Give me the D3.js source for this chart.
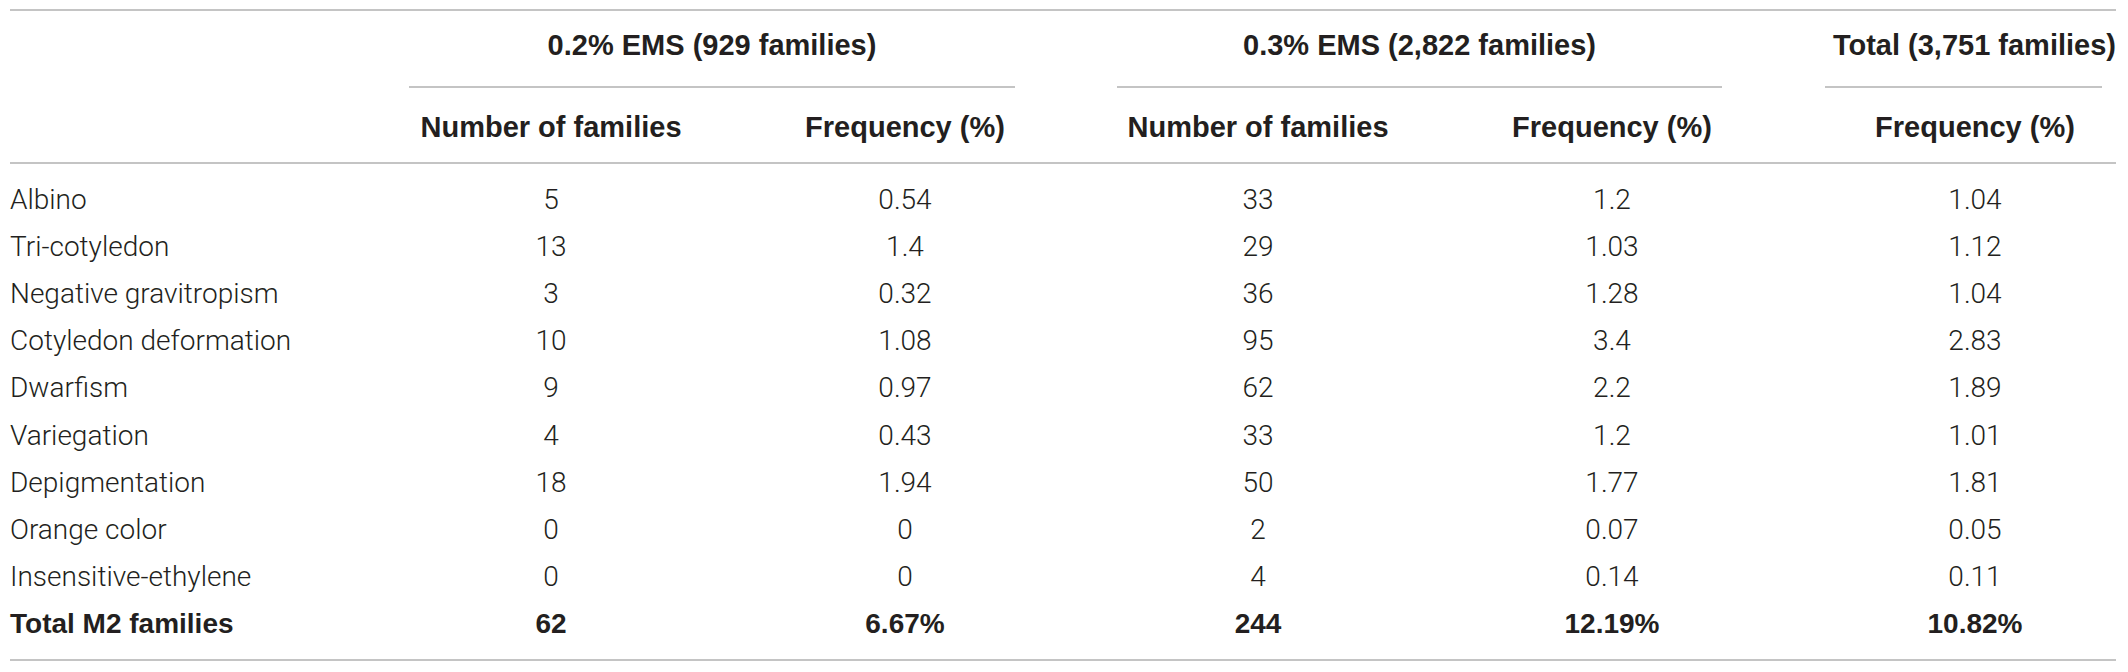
<!DOCTYPE html>
<html>
<head>
<meta charset="utf-8">
<script src="https://cdn.jsdelivr.net/npm/d3@7"></script>
<style>
  html, body { margin: 0; padding: 0; background: #fff; }
  svg text { fill: #231f20; }
  .hd { font-family: "Liberation Sans", Arial, sans-serif; font-weight: bold; font-size: 29px; }
  .bd { font-family: Roboto, "Liberation Sans", sans-serif; font-weight: 300; font-size: 28px; }
  .bd.total { font-family: "Liberation Sans", Arial, sans-serif; font-weight: bold; }
  .rule { stroke: #b1b1b1; stroke-width: 1.6; }
</style>
</head>
<body>
<div id="chart"></div>
<script>
// table content
const phenotypes = ["Albino", "Tri-cotyledon", "Negative gravitropism", "Cotyledon deformation",
  "Dwarfism", "Variegation", "Depigmentation", "Orange color", "Insensitive-ethylene", "Total M2 families"];
const count02 = ["5", "13", "3", "10", "9", "4", "18", "0", "0", "62"];
const freq02  = ["0.54", "1.4", "0.32", "1.08", "0.97", "0.43", "1.94", "0", "0", "6.67%"];
const count03 = ["33", "29", "36", "95", "62", "33", "50", "2", "4", "244"];
const freq03  = ["1.2", "1.03", "1.28", "3.4", "2.2", "1.2", "1.77", "0.07", "0.14", "12.19%"];
const freqTotal = ["1.04", "1.12", "1.04", "2.83", "1.89", "1.01", "1.81", "0.05", "0.11", "10.82%"];

const groupLabels = ["0.2% EMS (929 families)", "0.3% EMS (2,822 families)", "Total (3,751 families)"];
const columnLabels = ["Number of families", "Frequency (%)", "Number of families", "Frequency (%)", "Frequency (%)"];

const width = 2128, height = 672;
const margin = { left: 10, right: 12 };

let svg = d3.select("#chart").append("svg")
  .attr("width", width)
  .attr("height", height);

// column centres and row baselines
const colKeys = ["c1", "c2", "c3", "c4", "c5"];
let x = d3.scaleOrdinal().domain(colKeys).range([551, 905, 1258, 1612, 1975]);
let y = d3.scaleLinear().domain([0, phenotypes.length - 1]).range([209, 633]);

const groups = [
  { label: groupLabels[0], x0: 409, x1: 1015, tx: 712, anchor: "middle" },
  { label: groupLabels[1], x0: 1117, x1: 1722, tx: 1419.5, anchor: "middle" },
  { label: groupLabels[2], x0: 1825, x1: 2102, tx: 2116, anchor: "end" }   // hugs right edge
];

// horizontal rules
[10, 163, 660].forEach(yy => {
  svg.append("line").attr("class", "rule")
    .attr("x1", margin.left).attr("x2", width - margin.right)
    .attr("y1", yy).attr("y2", yy);
});

svg.selectAll("line.sub")
  .data(groups)
  .enter().append("line")
    .attr("class", "rule sub")
    .attr("x1", d => d.x0).attr("x2", d => d.x1)
    .attr("y1", 87).attr("y2", 87);

// group headers
svg.selectAll("text.grp")
  .data(groups)
  .enter().append("text")
    .attr("class", "hd grp")
    .attr("x", d => d.tx)
    .attr("y", 55)
    .attr("text-anchor", d => d.anchor)
    .text(d => d.label);

// column headers
svg.selectAll("text.col")
  .data(columnLabels)
  .enter().append("text")
    .attr("class", "hd col")
    .attr("x", (d, i) => x(colKeys[i]))
    .attr("y", 137)
    .attr("text-anchor", "middle")
    .text(d => d);

// body
const columns = [count02, freq02, count03, freq03, freqTotal];
const last = phenotypes.length - 1;

svg.selectAll("text.lab")
  .data(phenotypes)
  .enter().append("text")
    .attr("class", (d, i) => i === last ? "bd total lab" : "bd lab")
    .attr("x", margin.left)
    .attr("y", (d, i) => y(i))
    .text(d => d);

columns.forEach((col, c) => {
  svg.selectAll("text.v" + c)
    .data(col)
    .enter().append("text")
      .attr("class", (d, i) => (i === last ? "bd total v" : "bd v") + c)
      .attr("x", x(colKeys[c]))
      .attr("y", (d, i) => y(i))
      .attr("text-anchor", "middle")
      .text(d => d);
});
</script>
</body>
</html>
